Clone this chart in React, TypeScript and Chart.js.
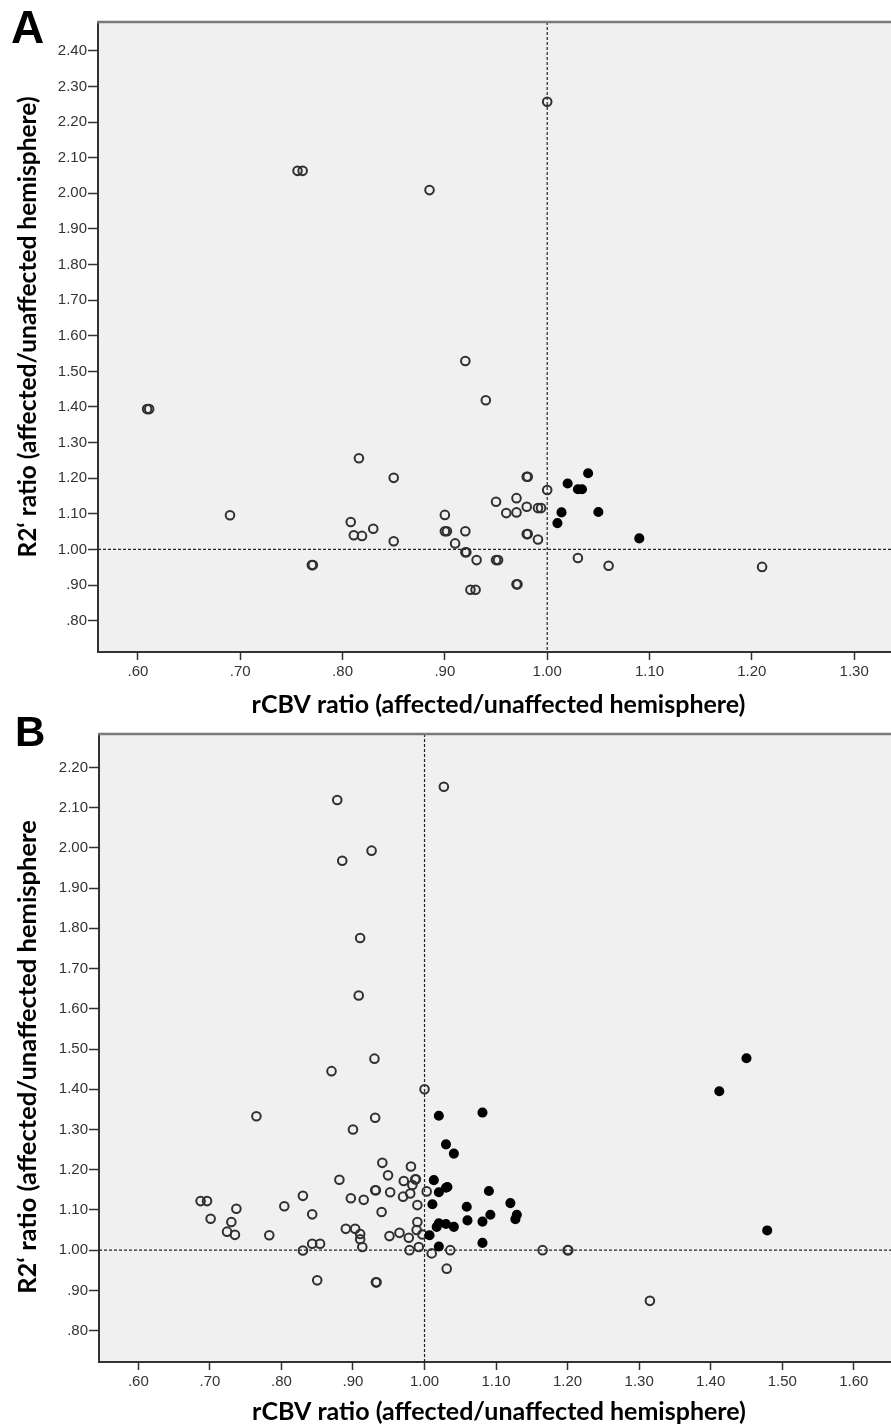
import React, { useEffect, useRef } from "react";
import { Chart, registerables } from "chart.js";

Chart.register(...registerables);

// ---------- Panel A data ----------
const aOpenX = [1.0, 0.756, 0.761, 0.885, 0.92, 0.94, 0.609, 0.611, 0.816, 0.85, 0.69, 0.77, 0.771, 0.808, 0.811, 0.819, 0.83, 0.85, 0.98, 0.981, 1.0, 0.95, 0.97, 0.96, 0.97, 0.98, 0.991, 0.994, 0.9, 0.9, 0.902, 0.92, 0.91, 0.92, 0.921, 0.931, 0.95, 0.952, 0.98, 0.981, 0.991, 1.03, 1.06, 0.925, 0.93, 0.97, 0.971, 1.21];
const aOpenY = [2.257, 2.063, 2.063, 2.009, 1.529, 1.419, 1.394, 1.394, 1.256, 1.201, 1.096, 0.956, 0.956, 1.077, 1.04, 1.038, 1.058, 1.023, 1.204, 1.204, 1.167, 1.134, 1.144, 1.102, 1.104, 1.12, 1.116, 1.116, 1.097, 1.051, 1.051, 1.051, 1.017, 0.992, 0.992, 0.97, 0.97, 0.97, 1.043, 1.043, 1.028, 0.976, 0.954, 0.887, 0.887, 0.902, 0.902, 0.951];
const aFilledX = [1.02, 1.04, 1.03, 1.034, 1.014, 1.01, 1.05, 1.09];
const aFilledY = [1.185, 1.214, 1.169, 1.169, 1.104, 1.074, 1.105, 1.031];
const aXRange = [0.561, 1.336];
const aYRange = [0.712, 2.481];
const aXTicks = [0.6, 0.7, 0.8, 0.9, 1.0, 1.1, 1.2, 1.3];
const aYTicks = [0.8, 0.9, 1.0, 1.1, 1.2, 1.3, 1.4, 1.5, 1.6, 1.7, 1.8, 1.9, 2.0, 2.1, 2.2, 2.3, 2.4];

// ---------- Panel B data ----------
const bOpenX = [1.027, 0.878, 0.926, 0.885, 0.91, 0.908, 0.93, 0.87, 1.0, 0.765, 0.9, 0.931, 0.881, 0.687, 0.696, 0.701, 0.737, 0.73, 0.724, 0.735, 0.783, 0.804, 0.83, 0.843, 0.83, 0.843, 0.854, 0.85, 0.89, 0.903, 0.897, 0.941, 0.981, 0.949, 0.971, 0.987, 0.988, 0.983, 0.931, 0.932, 0.952, 0.915, 0.97, 0.98, 1.003, 0.99, 0.94, 0.91, 0.91, 0.913, 0.951, 0.965, 0.978, 0.99, 0.989, 0.997, 0.979, 0.992, 1.01, 1.036, 1.031, 0.932, 0.933, 1.165, 1.2, 1.201, 1.315];
const bOpenY = [2.152, 2.119, 1.993, 1.968, 1.776, 1.633, 1.476, 1.445, 1.4, 1.333, 1.3, 1.329, 1.175, 1.122, 1.122, 1.078, 1.103, 1.07, 1.046, 1.038, 1.037, 1.109, 1.135, 1.089, 0.999, 1.016, 1.016, 0.925, 1.053, 1.053, 1.129, 1.217, 1.208, 1.186, 1.172, 1.176, 1.176, 1.162, 1.149, 1.149, 1.144, 1.125, 1.133, 1.141, 1.146, 1.112, 1.095, 1.04, 1.027, 1.008, 1.035, 1.043, 1.031, 1.07, 1.05, 1.039, 1.0, 1.008, 0.992, 1.0, 0.954, 0.92, 0.92, 1.0, 1.0, 1.0, 0.874];
const bFilledX = [1.02, 1.081, 1.03, 1.041, 1.013, 1.02, 1.03, 1.032, 1.011, 1.09, 1.059, 1.12, 1.092, 1.06, 1.081, 1.129, 1.127, 1.02, 1.03, 1.041, 1.017, 1.007, 1.02, 1.081, 1.412, 1.45, 1.479];
const bFilledY = [1.334, 1.342, 1.263, 1.24, 1.174, 1.144, 1.155, 1.157, 1.114, 1.147, 1.108, 1.117, 1.088, 1.074, 1.071, 1.088, 1.077, 1.067, 1.065, 1.058, 1.058, 1.037, 1.009, 1.018, 1.395, 1.477, 1.049];
const bXRange = [0.545, 1.652];
const bYRange = [0.722, 2.283];
const bXTicks = [0.6, 0.7, 0.8, 0.9, 1.0, 1.1, 1.2, 1.3, 1.4, 1.5, 1.6];
const bYTicks = [0.8, 0.9, 1.0, 1.1, 1.2, 1.3, 1.4, 1.5, 1.6, 1.7, 1.8, 1.9, 2.0, 2.1, 2.2];

const referenceValue = 1.0;
const xTitle = "rCBV ratio (affected/unaffected hemisphere)";
const yTitleA = "R2\u2018 ratio (affected/unaffected hemisphere)";
const yTitleB = "R2\u2018 ratio (affected/unaffected hemisphere";

const fmt = (v: number) => (v < 1 ? v.toFixed(2).slice(1) : v.toFixed(2));
const TITLE_FAMILY = "Lato, 'Open Sans', sans-serif";

const framePlugin = {
  id: "frame",
  beforeDraw(chart: any) {
    const { ctx, chartArea: a } = chart;
    ctx.save();
    ctx.fillStyle = "#f0f0f0";
    ctx.fillRect(a.left, a.top, a.right - a.left, a.bottom - a.top);
    ctx.restore();
  },
  beforeDatasetsDraw(chart: any) {
    const { ctx, chartArea: a, scales } = chart;
    const px = scales.x.getPixelForValue(referenceValue);
    const py = scales.y.getPixelForValue(referenceValue);
    ctx.save();
    ctx.strokeStyle = "#222";
    ctx.lineWidth = 1.2;
    ctx.setLineDash([3, 2]);
    ctx.beginPath();
    ctx.moveTo(px, a.top);
    ctx.lineTo(px, a.bottom);
    ctx.moveTo(a.left, py);
    ctx.lineTo(a.right, py);
    ctx.stroke();
    ctx.setLineDash([]);
    ctx.strokeStyle = "#7a7a7a";
    ctx.lineWidth = 2.5;
    ctx.beginPath();
    ctx.moveTo(a.left - 1, a.top);
    ctx.lineTo(a.right, a.top);
    ctx.stroke();
    ctx.restore();
  },
  afterDraw(chart: any, _args: any, opts: any) {
    const { ctx, chartArea: a } = chart;
    ctx.save();
    ctx.fillStyle = "#000";
    ctx.textAlign = "center";
    ctx.textBaseline = "middle";
    // x-axis title
    ctx.font = `bold ${opts.xTitleSize}px ${TITLE_FAMILY}`;
    ctx.fillText(opts.xTitle, (a.left + a.right) / 2 + opts.xTitleShift, chart.height - opts.xTitleFromBottom);
    // y-axis title
    ctx.translate(opts.yTitleX, (a.top + a.bottom) / 2 + opts.yTitleShift);
    ctx.rotate(-Math.PI / 2);
    ctx.font = `bold ${opts.yTitleSize}px ${TITLE_FAMILY}`;
    ctx.fillText(opts.yTitle, 0, 0);
    ctx.restore();
  },
};

type PanelProps = {
  openX: number[];
  openY: number[];
  filledX: number[];
  filledY: number[];
  xRange: number[];
  yRange: number[];
  xTicks: number[];
  yTicks: number[];
  titles: any;
  width: number;
  height: number;
  padTop: number;
  yAxisWidth: number;
  xAxisHeight: number;
};

function Panel(p: PanelProps) {
  const ref = useRef<HTMLCanvasElement>(null);
  useEffect(() => {
    const canvas = ref.current as HTMLCanvasElement;
    const tickFont = { family: "'Liberation Sans', Arial, sans-serif", size: 15 };
    const chart = new Chart(canvas, {
      type: "scatter",
      data: {
        datasets: [
          {
            data: p.filledX.map((x, i) => ({ x, y: p.filledY[i] })),
            pointRadius: 4.3,
            pointBackgroundColor: "#000",
            pointBorderColor: "#000",
            pointBorderWidth: 1.5,
          },
          {
            data: p.openX.map((x, i) => ({ x, y: p.openY[i] })),
            pointRadius: 4.3,
            pointBackgroundColor: "rgba(0,0,0,0)",
            pointBorderColor: "#303030",
            pointBorderWidth: 2,
          },
        ],
      },
      options: {
        responsive: false,
        animation: false,
        events: [],
        layout: { autoPadding: false, padding: { top: p.padTop, right: 0, bottom: 0, left: 0 } },
        plugins: { legend: { display: false }, tooltip: { enabled: false }, frame: p.titles },
        scales: {
          x: {
            type: "linear",
            min: p.xRange[0],
            max: p.xRange[1],
            afterBuildTicks: (s: any) => {
              s.ticks = p.xTicks.map((v) => ({ value: v }));
            },
            afterFit: (s: any) => {
              s.height = p.xAxisHeight;
              s.paddingLeft = 0;
              s.paddingRight = 0;
            },
            ticks: { font: tickFont, color: "#333", padding: 3, maxRotation: 0, autoSkip: false, callback: (v: any) => fmt(Number(v)) },
            grid: { drawOnChartArea: false, drawTicks: true, tickLength: 8, tickWidth: 1.5, tickColor: "#333", color: "#333" },
            border: { display: true, color: "#333", width: 2 },
            title: { display: false },
          },
          y: {
            type: "linear",
            min: p.yRange[0],
            max: p.yRange[1],
            afterBuildTicks: (s: any) => {
              s.ticks = p.yTicks.map((v) => ({ value: v }));
            },
            afterFit: (s: any) => {
              s.width = p.yAxisWidth;
              s.paddingTop = 0;
              s.paddingBottom = 0;
            },
            ticks: { font: tickFont, color: "#333", padding: 1, autoSkip: false, callback: (v: any) => fmt(Number(v)) },
            grid: { drawOnChartArea: false, drawTicks: true, tickLength: 10, tickWidth: 1.5, tickColor: "#333", color: "#333" },
            border: { display: true, color: "#333", width: 2 },
            title: { display: false },
          },
        },
      },
      plugins: [framePlugin],
    } as any);
    return () => chart.destroy();
  }, []);
  return <canvas ref={ref} width={p.width} height={p.height} style={{ display: "block" }} />;
}

const letterStyle: React.CSSProperties = {
  position: "absolute",
  fontFamily: "'Liberation Sans', Arial, sans-serif",
  fontWeight: "bold",
  color: "#000",
};

const titlesA = { xTitle, yTitle: yTitleA, xTitleSize: 25, xTitleShift: 4, xTitleFromBottom: 15, yTitleX: 28, yTitleShift: -10, yTitleSize: 24.5 };
const titlesB = { xTitle, yTitle: yTitleB, xTitleSize: 25, xTitleShift: 4, xTitleFromBottom: 15, yTitleX: 28, yTitleShift: 9, yTitleSize: 25.5 };

export default function App() {
  return (
    <div style={{ position: "absolute", left: 0, top: 0, width: 891, height: 1427, background: "#fff", overflow: "hidden" }}>
      <div style={{ position: "absolute", left: 0, top: 0 }}>
        <Panel openX={aOpenX} openY={aOpenY} filledX={aFilledX} filledY={aFilledY} xRange={aXRange} yRange={aYRange} xTicks={aXTicks} yTicks={aYTicks} titles={titlesA} width={891} height={720} padTop={22} yAxisWidth={98} xAxisHeight={68} />
      </div>
      <div style={{ position: "absolute", left: 0, top: 720 }}>
        <Panel openX={bOpenX} openY={bOpenY} filledX={bFilledX} filledY={bFilledY} xRange={bXRange} yRange={bYRange} xTicks={bXTicks} yTicks={bYTicks} titles={titlesB} width={891} height={707} padTop={14} yAxisWidth={99} xAxisHeight={65} />
      </div>
      <div style={{ ...letterStyle, left: 11, top: 4, fontSize: 46, lineHeight: "46px" }}>A</div>
      <div style={{ ...letterStyle, left: 15, top: 711, fontSize: 42, lineHeight: "42px" }}>B</div>
    </div>
  );
}
